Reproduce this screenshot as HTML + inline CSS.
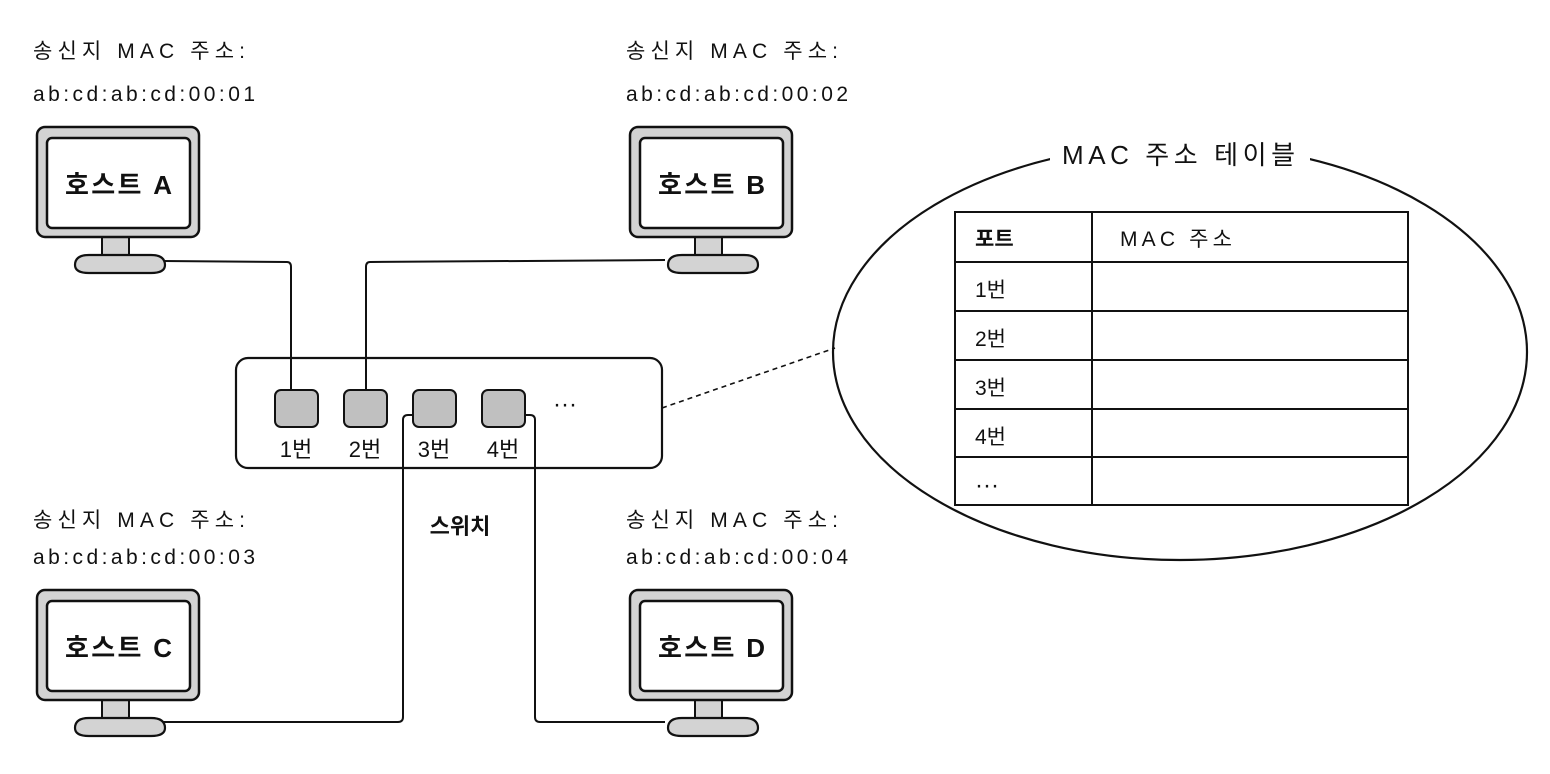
<!DOCTYPE html>
<html><head><meta charset="utf-8"><style>
body{margin:0;background:#fff}
svg{display:block}
text{font-family:"Liberation Sans","Noto Sans CJK KR",sans-serif;fill:#111}
</style></head><body>
<svg width="1550" height="774" viewBox="0 0 1550 774" xmlns="http://www.w3.org/2000/svg">
<defs>
<g id="mon">
<path d="M65,110 h27 v18 h-27z" fill="#d3d3d3" stroke="#111" stroke-width="2"/>
<path d="M38,138 q0,-10 14,-10 h62 q14,0 14,10 q0,8 -14,8 h-62 q-14,0 -14,-8z" fill="#d3d3d3" stroke="#111" stroke-width="2.2"/>
<rect x="0" y="0" width="162" height="110" rx="8" fill="#d3d3d3" stroke="#111" stroke-width="2.5"/>
<rect x="10" y="11" width="143" height="90" rx="5" fill="#fff" stroke="#111" stroke-width="2.5"/>
</g>
</defs>
<rect x="236" y="358" width="426" height="110" rx="12" fill="#fff" stroke="#111" stroke-width="2.2"/>
<g fill="none" stroke="#111" stroke-width="2">
<path d="M163,261 L287,262 q4,0 4,5 V392"/>
<path d="M665,260 L370,262 q-4,0 -4,5 V392"/>
<path d="M163,722 L398,722 q5,0 5,-5 V420 q0,-5 5,-5 H414"/>
<path d="M525,415 H530 q5,0 5,5 V717 q0,5 5,5 H665"/>
<path d="M662,408 L835,348" stroke-dasharray="5,4" stroke-width="1.6"/>
</g>
<use href="#mon" x="37" y="127"/>
<use href="#mon" x="630" y="127"/>
<use href="#mon" x="37" y="590"/>
<use href="#mon" x="630" y="590"/>
<g font-size="26" font-weight="bold">
<text x="65" y="194" textLength="107">호스트 A</text>
<text x="658" y="194" textLength="107">호스트 B</text>
<text x="65" y="657" textLength="107">호스트 C</text>
<text x="658" y="657" textLength="107">호스트 D</text>
</g>
<g font-size="21">
<text x="33" y="58" textLength="212">송신지 MAC 주소:</text><text x="33" y="101" textLength="222">ab:cd:ab:cd:00:01</text>
<text x="626" y="58" textLength="212">송신지 MAC 주소:</text><text x="626" y="101" textLength="222">ab:cd:ab:cd:00:02</text>
<text x="33" y="527" textLength="212">송신지 MAC 주소:</text><text x="33" y="564" textLength="222">ab:cd:ab:cd:00:03</text>
<text x="626" y="527" textLength="212">송신지 MAC 주소:</text><text x="626" y="564" textLength="222">ab:cd:ab:cd:00:04</text>
</g>
<g fill="#c0c0c0" stroke="#111" stroke-width="2">
<rect x="275" y="390" width="43" height="37" rx="6"/>
<rect x="344" y="390" width="43" height="37" rx="6"/>
<rect x="413" y="390" width="43" height="37" rx="6"/>
<rect x="482" y="390" width="43" height="37" rx="6"/>
</g>
<g font-size="22" text-anchor="middle">
<text x="296" y="457">1번</text><text x="365" y="457">2번</text>
<text x="434" y="457">3번</text><text x="503" y="457">4번</text>
<text x="565" y="412" font-size="24">···</text>
</g>
<text x="460" y="534" font-size="22" font-weight="bold" text-anchor="middle">스위치</text>
<ellipse cx="1180" cy="352" rx="347" ry="208" fill="none" stroke="#111" stroke-width="2.2"/>
<rect x="1050" y="135" width="260" height="38" fill="#fff"/>
<text x="1062" y="164" font-size="26" textLength="233">MAC 주소 테이블</text>
<g fill="none" stroke="#111" stroke-width="2">
<rect x="955" y="212" width="453" height="293"/>
<path d="M1092,212 V505 M955,262 H1408 M955,311 H1408 M955,360 H1408 M955,409 H1408 M955,457 H1408"/>
</g>
<g font-size="21">
<text x="975" y="246" font-weight="bold">포트</text>
<text x="1120" y="246" textLength="112">MAC 주소</text>
<text x="975" y="297">1번</text><text x="975" y="346">2번</text>
<text x="975" y="395">3번</text><text x="975" y="444">4번</text>
<text x="975" y="493" font-size="24">···</text>
</g>
</svg>
</body></html>
